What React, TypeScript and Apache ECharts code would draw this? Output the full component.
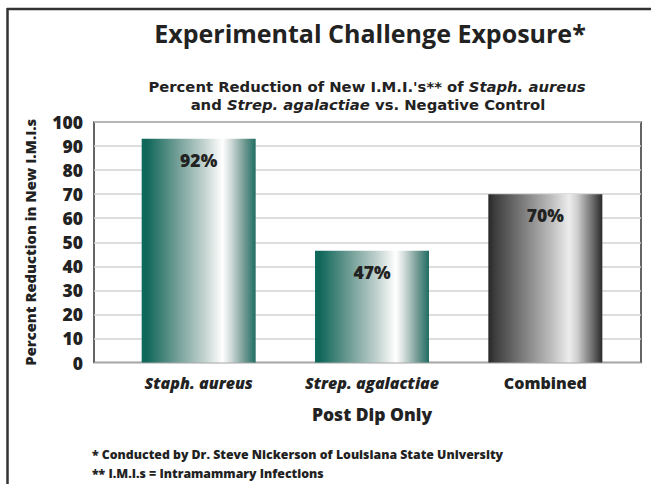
import React, { useEffect, useRef } from "react";
import * as echarts from "echarts";

const categories = ["Staph. aureus", "Strep. agalactiae", "Combined"];
const values = [93, 46.5, 70];
const valueLabels = ["92%", "47%", "70%"];
const yMin = 0;
const yMax = 100;
const yInterval = 10;

const FONT = "'Open Sans', 'Noto Sans', sans-serif";
const SUBFONT = "'DejaVu Sans', sans-serif";
const W = 800;

const tealGradient = () =>
  new echarts.graphic.LinearGradient(0, 0, 1, 0, [
    { offset: 0, color: "#0e6a5d" },
    { offset: 0.04, color: "#0f6659" },
    { offset: 0.3, color: "#6d9c94" },
    { offset: 0.55, color: "#c3d3cf" },
    { offset: 0.71, color: "#ffffff" },
    { offset: 0.78, color: "#d3dddb" },
    { offset: 0.9, color: "#729a93" },
    { offset: 1, color: "#216e63" },
  ]);

const grayGradient = () =>
  new echarts.graphic.LinearGradient(0, 0, 1, 0, [
    { offset: 0, color: "#262626" },
    { offset: 0.05, color: "#3b3b3b" },
    { offset: 0.3, color: "#7b7b7b" },
    { offset: 0.55, color: "#bcbcbc" },
    { offset: 0.71, color: "#ededed" },
    { offset: 0.78, color: "#cfcfcf" },
    { offset: 0.9, color: "#777777" },
    { offset: 1, color: "#2a2a2a" },
  ]);

const SUBSIZE = 14.8;
const subRich = {
  b: { fontFamily: SUBFONT, fontSize: SUBSIZE, fontWeight: "bold", color: "#222", lineHeight: 17 },
  i: { fontFamily: SUBFONT, fontSize: SUBSIZE, fontWeight: "bold", fontStyle: "italic", color: "#222", lineHeight: 17 },
};

export default function App() {
  const ref = useRef<HTMLDivElement>(null);
  useEffect(() => {
    if (!ref.current) return;
    const chart = echarts.init(ref.current, null, { renderer: "svg" });
    const option = {
      animation: false,
      backgroundColor: "#ffffff",
      title: [
        {
          text: "Experimental Challenge Exposure*",
          left: 365,
          top: 15,
          textAlign: "center",
          textStyle: { fontFamily: FONT, fontSize: 25, fontWeight: 700, color: "#222" },
        },
        {
          text: "{b|Percent Reduction of New I.M.I.'s** of }{i|Staph. aureus}",
          left: 362,
          top: 72.5,
          textAlign: "center",
          textStyle: { fontFamily: SUBFONT, fontSize: SUBSIZE, fontWeight: "bold", color: "#222", lineHeight: 17, rich: subRich },
        },
        {
          text: "{b|and }{i|Strep. agalactiae}{b| vs. Negative Control}",
          left: 363,
          top: 90.5,
          textAlign: "center",
          textStyle: { fontFamily: SUBFONT, fontSize: SUBSIZE, fontWeight: "bold", color: "#222", lineHeight: 17, rich: subRich },
        },
        {
          text: "Post Dip Only",
          left: 367,
          top: 400,
          textAlign: "center",
          textStyle: { fontFamily: FONT, fontSize: 17.5, fontWeight: W, color: "#222" },
        },
        {
          text: "* Conducted by Dr. Steve Nickerson of Louisiana State University\n** I.M.I.s = Intramammary Infections",
          left: 87,
          top: 440,
          textStyle: { fontFamily: FONT, fontSize: 12.3, fontWeight: W, color: "#222", lineHeight: 19 },
        },
      ],
      graphic: [
        {
          type: "line",
          shape: { x1: 7, y1: 9, x2: 651, y2: 9 },
          style: { stroke: "#333", lineWidth: 2.5 },
        },
        {
          type: "line",
          shape: { x1: 7.5, y1: 8, x2: 7.5, y2: 484 },
          style: { stroke: "#333", lineWidth: 2.5 },
        },
      ],
      grid: [
        { left: 94, right: 10, top: 122, bottom: 121.5, show: true, borderColor: "#333", borderWidth: 1.5, backgroundColor: "transparent" },
        { left: 112, right: 19, top: 122, bottom: 121.5 },
      ],
      xAxis: [
        { type: "category", gridIndex: 0, data: categories, show: false },
        {
          type: "category",
          gridIndex: 1,
          data: categories,
          axisLine: { show: false },
          axisTick: { show: false },
          axisLabel: {
            interval: 0,
            margin: 12,
            fontFamily: FONT,
            fontSize: 16,
            fontWeight: W,
            color: "#222",
            formatter: (v: string) => (v === "Combined" ? "{n|" + v + "}" : "{it|" + v + "}"),
            rich: {
              it: { fontFamily: FONT, fontSize: 16, fontWeight: W, fontStyle: "italic", color: "#222" },
              n: { fontFamily: FONT, fontSize: 16, fontWeight: W, fontStyle: "normal", color: "#222" },
            },
          },
        },
      ],
      yAxis: [
        {
          type: "value",
          gridIndex: 0,
          min: yMin,
          max: yMax,
          interval: yInterval,
          name: "Percent Reduction in New I.M.I.s",
          nameLocation: "middle",
          nameGap: 57,
          nameRotate: 90,
          nameTextStyle: { fontFamily: FONT, fontSize: 14.8, fontWeight: W, color: "#222" },
          axisLine: { show: false },
          axisTick: { show: false },
          axisLabel: { margin: 11, fontFamily: FONT, fontSize: 17.5, fontWeight: W, color: "#222" },
          splitLine: { show: true, lineStyle: { color: "#d2d2d2", width: 1.5 } },
        },
        { type: "value", gridIndex: 1, min: yMin, max: yMax, interval: yInterval, show: false, splitLine: { show: false } },
      ],
      series: [
        {
          type: "bar",
          xAxisIndex: 1,
          yAxisIndex: 1,
          barWidth: 114,
          data: values.map((v, i) => ({
            value: v,
            itemStyle: { color: i === 2 ? grayGradient() : tealGradient() },
          })),
          label: {
            show: true,
            position: "insideTop",
            distance: 12,
            fontFamily: FONT,
            fontSize: 17.5,
            fontWeight: W,
            color: "#222",
            formatter: (p: any) => valueLabels[p.dataIndex],
          },
        },
      ],
    };
    chart.setOption(option as any);
    return () => chart.dispose();
  }, []);
  return (
    <div
      ref={ref}
      style={{ position: "fixed", left: 0, top: 0, width: 651, height: 484, background: "#fff" }}
    />
  );
}
